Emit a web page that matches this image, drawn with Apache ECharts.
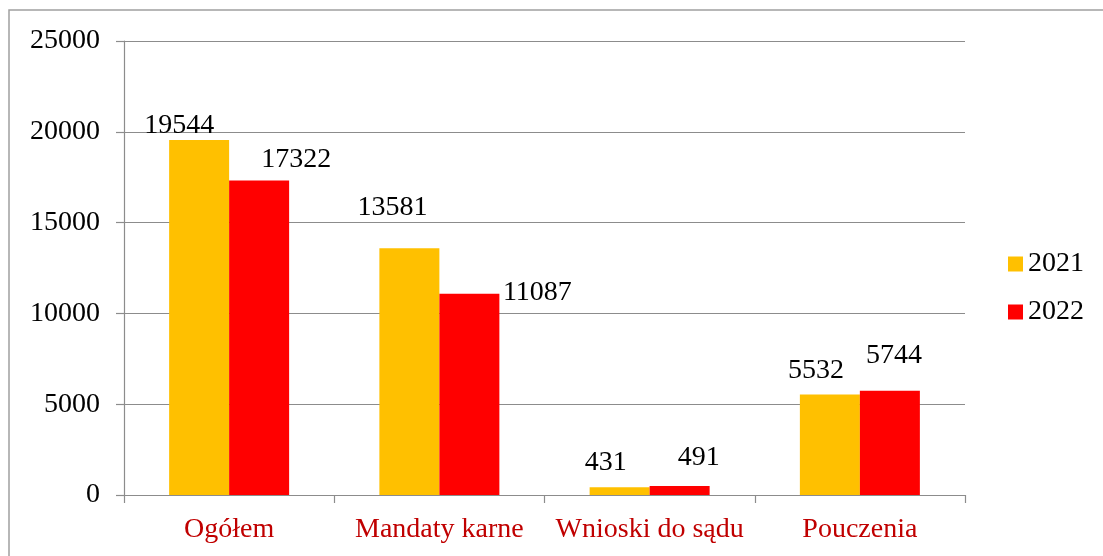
<!DOCTYPE html>
<html>
<head>
<meta charset="utf-8">
<script src="https://cdn.jsdelivr.net/npm/echarts@6/dist/echarts.min.js"></script>
<style>
html,body{margin:0;padding:0;background:#fff;}
#c{width:1103px;height:556px;}
</style>
</head>
<body>
<div id="c"></div>
<script>
var categories = ['Ogółem', 'Mandaty karne', 'Wnioski do sądu', 'Pouczenia'];
var seriesNames = ['2021', '2022'];
var values2021 = [19544, 13581, 431, 5532];
var values2022 = [17322, 11087, 491, 5744];
var yTicks = [0, 5000, 10000, 15000, 20000, 25000];

// label offsets relative to default 'top' label position (as in reference)
var labelOffsets2021 = [[-20, 0], [-17, -27], [-14, -11], [-14, -10]];
var labelOffsets2022 = [[37, -7], [68, 13], [19, -14], [4, -21]];

var FONT = '"Liberation Serif", "Times New Roman", serif';

function mkData(vals, offs) {
  return vals.map(function (v, i) {
    return { value: v, label: { offset: offs[i] } };
  });
}

var chart = echarts.init(document.getElementById('c'), null, { renderer: 'canvas' });
chart.setOption({
  animation: false,
  backgroundColor: '#ffffff',
  graphic: [{
    type: 'rect',
    shape: { x: 9, y: 10, width: 1200, height: 700 },
    style: { fill: 'none', stroke: '#a0a0a0', lineWidth: 1.5 },
    silent: true, z: -1
  }],
  grid: { left: 124, right: 138, top: 41, bottom: 61, containLabel: false },
  legend: {
    orient: 'vertical',
    left: 1008,
    top: 250,
    padding: 0,
    itemWidth: 15,
    itemHeight: 15,
    itemGap: 20,
    itemTextGap: 6,
    icon: 'rect',
    textStyle: { fontFamily: FONT, fontSize: 28, color: '#000' },
    data: seriesNames
  },
  xAxis: {
    type: 'category',
    data: categories,
    axisLine: { lineStyle: { color: '#8c8c8c', width: 1.2 } },
    axisTick: { show: true, length: 8, alignWithLabel: false, lineStyle: { color: '#8c8c8c', width: 1.2 } },
    axisLabel: { fontFamily: FONT, fontSize: 28, color: '#C00000', margin: 21, interval: 0 },
    splitLine: { show: false }
  },
  yAxis: {
    type: 'value',
    min: yTicks[0],
    max: yTicks[yTicks.length - 1],
    interval: yTicks[1] - yTicks[0],
    axisLine: { show: true, lineStyle: { color: '#8c8c8c', width: 1.2 } },
    axisTick: { show: true, length: 8, lineStyle: { color: '#8c8c8c', width: 1.2 } },
    axisLabel: { fontFamily: FONT, fontSize: 28, color: '#000', margin: 24, formatter: function (v) { return String(v); } },
    splitLine: { show: true, lineStyle: { color: '#8c8c8c', width: 1.2 } }
  },
  series: [
    {
      name: seriesNames[0],
      type: 'bar',
      barWidth: 60,
      barGap: '0%',
      itemStyle: { color: '#FFC000' },
      label: { show: true, position: 'top', distance: 0, fontFamily: FONT, fontSize: 28, lineHeight: 28, color: '#000' },
      data: mkData(values2021, labelOffsets2021)
    },
    {
      name: seriesNames[1],
      type: 'bar',
      barWidth: 60,
      barGap: '0%',
      itemStyle: { color: '#FF0000' },
      label: { show: true, position: 'top', distance: 0, fontFamily: FONT, fontSize: 28, lineHeight: 28, color: '#000' },
      data: mkData(values2022, labelOffsets2022)
    }
  ]
});
</script>
</body>
</html>
